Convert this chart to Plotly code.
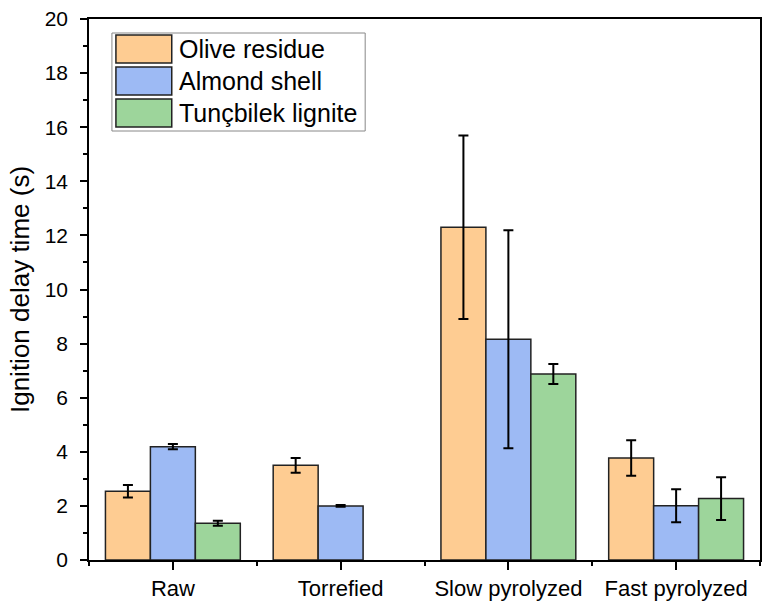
import plotly.graph_objects as go

categories = ["Raw", "Torrefied", "Slow pyrolyzed", "Fast pyrolyzed"]
series_names = ["Olive residue", "Almond shell", "Tunçbilek lignite"]
olive = [2.54, 3.50, 12.30, 3.77]
olive_err = [0.23, 0.27, 3.39, 0.66]
almond = [4.19, 2.00, 8.16, 2.01]
almond_err = [0.10, 0.03, 4.03, 0.61]
lignite = [1.36, None, 6.88, 2.27]
lignite_err = [0.09, None, 0.37, 0.79]
colors = ["#FECC92", "#9DBAF4", "#9DD59B"]

xs = list(range(len(categories)))
fig = go.Figure()
for name, vals, errs, col in zip(series_names, [olive, almond, lignite],
                                 [olive_err, almond_err, lignite_err], colors):
    fig.add_trace(go.Bar(
        x=xs, y=vals, name=name,
        marker=dict(color=col, line=dict(color="#222222", width=1.5)),
        error_y=dict(type="data", array=errs, visible=True, color="black",
                     thickness=2, width=5),
        showlegend=False,
    ))

font = "Liberation Sans, Arial, sans-serif"
fig.update_layout(
    width=764, height=605,
    margin=dict(l=89, r=2, t=19, b=45),
    paper_bgcolor="white", plot_bgcolor="white",
    barmode="group", bargap=0.196, bargroupgap=0,
    font=dict(family=font, size=22, color="black"),
)
fig.update_xaxes(
    range=[-0.5, 3.5], tickmode="array", tickvals=xs, ticktext=categories,
    showline=True, linecolor="black", linewidth=1.5, mirror=True,
    ticks="outside", ticklen=8, tickwidth=2, tickcolor="black",
    minor=dict(tickmode="linear", tick0=0.5, dtick=1, ticks="outside",
               ticklen=4, tickwidth=2, tickcolor="black"),
    showgrid=False, zeroline=False, tickfont=dict(size=22),
)
fig.update_yaxes(
    range=[0, 20], tickmode="linear", tick0=0, dtick=2,
    showline=True, linecolor="black", linewidth=1.5, mirror=True,
    ticks="outside", ticklen=7, tickwidth=1.5, tickcolor="black",
    minor=dict(tickmode="linear", tick0=0, dtick=1, ticks="outside",
               ticklen=4, tickwidth=1.5, tickcolor="black"),
    showgrid=False, zeroline=False, tickfont=dict(size=21),
    ticklabelstandoff=8,
    title=dict(text="Ignition delay time (s)", font=dict(size=26), standoff=8),
)

# Manual legend (box, swatches, labels) in paper coordinates
pw, ph = 764 - 89 - 2, 605 - 19 - 45
def px(x):
    return (x - 89) / pw
def py(y):
    return (605 - 45 - y) / ph

fig.add_shape(type="rect", xref="paper", yref="paper",
              x0=px(112), x1=px(366), y0=py(131), y1=py(33),
              line=dict(color="#888888", width=1), fillcolor="white")
for i, (name, col) in enumerate(zip(series_names, colors)):
    top = 35 + i * 32
    fig.add_shape(type="rect", xref="paper", yref="paper",
                  x0=px(116), x1=px(172), y0=py(top + 28), y1=py(top),
                  line=dict(color="#222222", width=1.5), fillcolor=col)
    fig.add_annotation(xref="paper", yref="paper", x=px(177), y=py(top + 14),
                       text=name, showarrow=False, xanchor="left", yanchor="middle",
                       font=dict(size=25, family=font, color="black"))

fig.write_html("out.html")
